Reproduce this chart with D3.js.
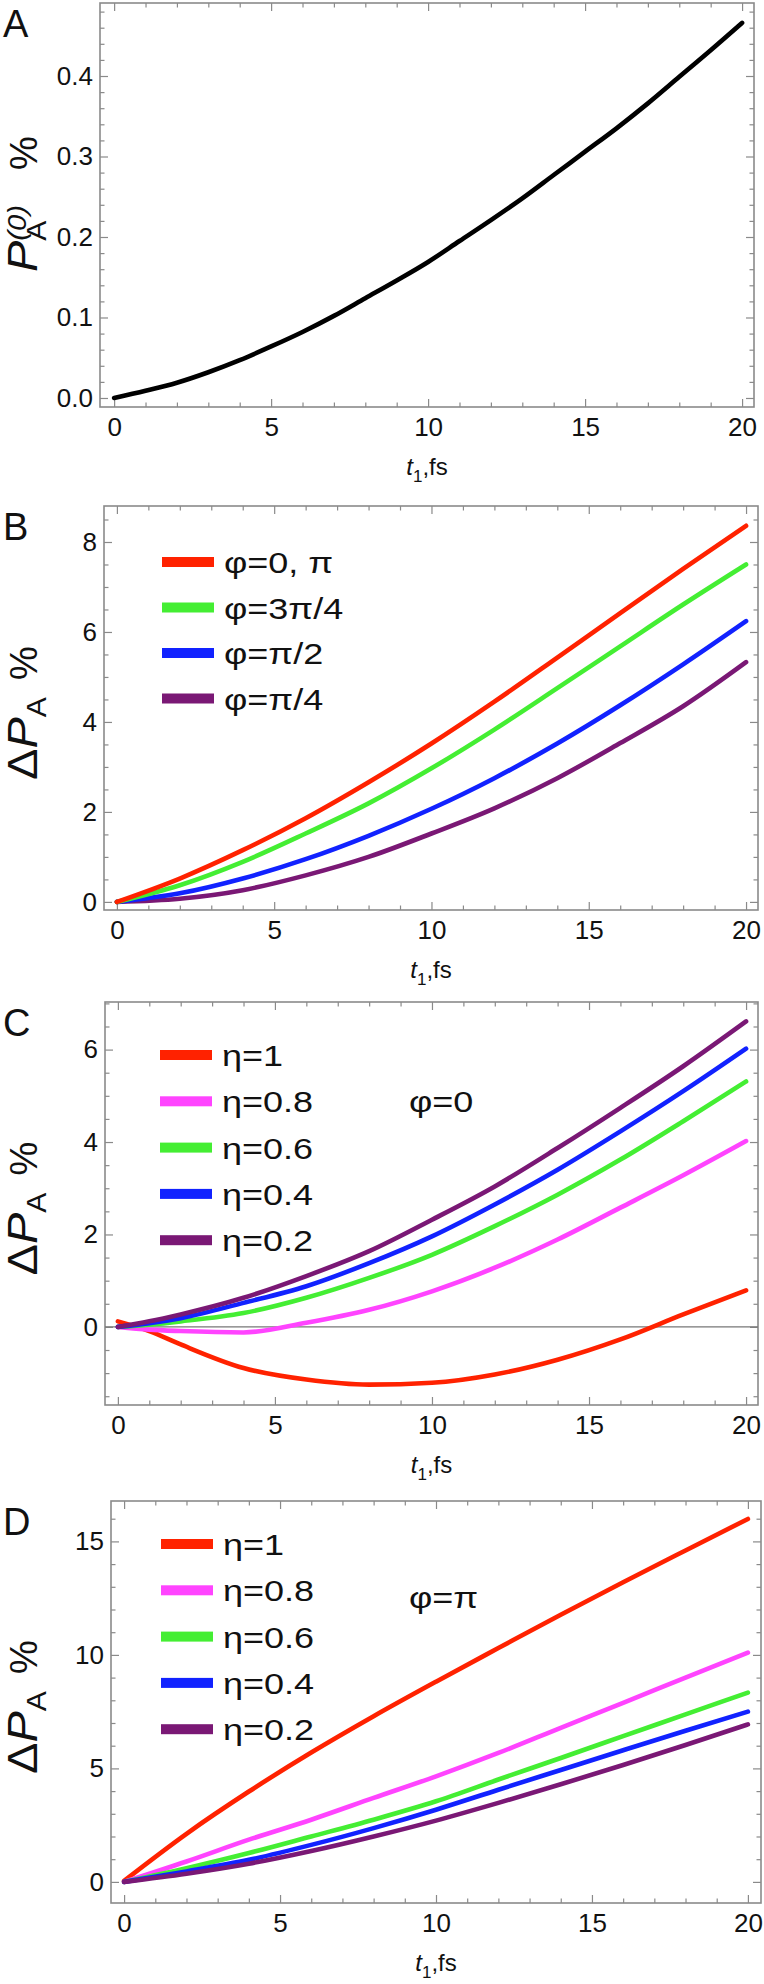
<!DOCTYPE html>
<html><head><meta charset="utf-8">
<script src="https://cdn.jsdelivr.net/npm/d3@7"></script>
<style>
body{margin:0;background:#fff}
svg{display:block}
text{font-family:"Liberation Sans",Arial,Helvetica,sans-serif;fill:#111}
</style>
</head><body>
<svg id="chart" width="764" height="1984"></svg>
<script>
// ---------------- DATA ----------------
const xTicksMajor = [0, 5, 10, 15, 20];

// Panel A : P_A^(0) %
const tA = [0,1,2,3,4,5,6,7,8,9,10,11,12,13,14,15,16,17,18,19,20];
const pA0 = [0,0.009,0.019,0.032,0.047,0.064,0.082,0.102,0.124,0.146,0.169,0.195,0.221,0.248,0.277,0.306,0.335,0.366,0.399,0.432,0.466];
const yTicksA = [0.0, 0.1, 0.2, 0.3, 0.4];

// Panel B : ΔP_A % for different φ
const tB = [0,2,4,6,8,10,12,14,16,18,20];
const bPhi0 = [0,0.52,1.15,1.86,2.66,3.52,4.45,5.43,6.42,7.40,8.36];
const bPhi3q = [0,0.37,0.89,1.52,2.19,2.97,3.83,4.75,5.68,6.61,7.50];
const bPhiHalf = [0,0.19,0.52,0.95,1.47,2.07,2.75,3.52,4.37,5.28,6.24];
const bPhiQ = [0,0.07,0.26,0.59,1.00,1.52,2.08,2.75,3.53,4.35,5.33];
const legendB = ["φ=0, π", "φ=3π/4", "φ=π/2", "φ=π/4"];
const yTicksB = [0, 2, 4, 6, 8];

// Panel C : φ=0, different η
const tC = [0,1,2,4,6,8,10,12,14,16,18,20];
const cEta10 = [0.12,-0.09,-0.38,-0.89,-1.14,-1.25,-1.21,-1.03,-0.71,-0.27,0.27,0.79];
const cEta08 = [0,-0.06,-0.09,-0.12,0.09,0.37,0.77,1.28,1.89,2.58,3.28,4.02];
const cEta06 = [0,0.05,0.12,0.30,0.63,1.06,1.56,2.18,2.86,3.62,4.45,5.31];
const cEta04 = [0,0.08,0.19,0.52,0.88,1.38,1.96,2.65,3.40,4.23,5.10,6.02];
const cEta02 = [0,0.12,0.27,0.63,1.10,1.64,2.32,3.04,3.87,4.74,5.64,6.61];
const yTicksC = [0, 2, 4, 6];

// Panel D : φ=π, different η
const tD = [0,2,4,6,8,10,12,14,16,18,20];
const dEta10 = [0.05,2.12,3.98,5.70,7.30,8.82,10.30,11.77,13.20,14.60,15.99];
const dEta08 = [0,0.90,1.86,2.74,3.70,4.65,5.68,6.79,7.89,9.00,10.10];
const dEta06 = [0,0.60,1.27,2.00,2.74,3.55,4.51,5.46,6.42,7.38,8.34];
const dEta04 = [0,0.46,0.97,1.63,2.37,3.18,4.06,4.93,5.80,6.66,7.50];
const dEta02 = [0,0.36,0.80,1.36,2.00,2.70,3.48,4.30,5.15,6.03,6.94];
const yTicksD = [0, 5, 10, 15];

const legendEta = ["η=1", "η=0.8", "η=0.6", "η=0.4", "η=0.2"];

const RED = "#ff2200", GREEN = "#44ee33", BLUE = "#1122ff", PURPLE = "#7a1875", MAGENTA = "#ff44ff", BLACK = "#000";

// ---------------- DRAW ----------------
const svg = d3.select("#chart");
const FRAME = "#8a8a8a";

function panel(cfg) {
  const g = svg.append("g");
  const f = cfg.frame;
  const x = d3.scaleLinear().domain(cfg.xDomain).range([f.l, f.r]);
  const y = d3.scaleLinear().domain(cfg.yDomain).range([f.b, f.t]);
  const cy0 = (f.t + f.b) / 2;

  const xMinor = d3.range(0, 21, 1).filter(v => !xTicksMajor.includes(v));
  const yMinor = d3.range(cfg.yMinorStart, cfg.yDomain[1], cfg.yMinorStep)
      .map(v => +v.toFixed(4))
      .filter(v => v >= cfg.yDomain[0] && !cfg.yMajor.some(m => Math.abs(m - v) < 1e-6));

  function styleAxis(sel) {
    sel.select(".domain").remove();
    sel.selectAll(".tick line").attr("stroke", FRAME).attr("stroke-width", 1.2);
    sel.selectAll(".tick text").attr("fill", "#111").style("font-size", "26px")
      .style("font-family", '"Liberation Sans", Arial, sans-serif');
  }
  g.append("g").attr("transform", `translate(0,${f.b})`)
    .call(d3.axisBottom(x).tickValues(xTicksMajor).tickSizeInner(-8).tickSizeOuter(0).tickPadding(11).tickFormat(d3.format("d")))
    .call(styleAxis);
  g.append("g").attr("transform", `translate(0,${f.b})`)
    .call(d3.axisBottom(x).tickValues(xMinor).tickSizeInner(-4.5).tickSizeOuter(0).tickFormat(""))
    .call(styleAxis);
  g.append("g").attr("transform", `translate(0,${f.t})`)
    .call(d3.axisTop(x).tickValues(xTicksMajor).tickSizeInner(-8).tickSizeOuter(0).tickFormat(""))
    .call(styleAxis);
  g.append("g").attr("transform", `translate(0,${f.t})`)
    .call(d3.axisTop(x).tickValues(xMinor).tickSizeInner(-4.5).tickSizeOuter(0).tickFormat(""))
    .call(styleAxis);
  g.append("g").attr("transform", `translate(${f.l},0)`)
    .call(d3.axisLeft(y).tickValues(cfg.yMajor).tickSizeInner(-8).tickSizeOuter(0).tickPadding(7).tickFormat(cfg.yFmt))
    .call(styleAxis);
  g.append("g").attr("transform", `translate(${f.l},0)`)
    .call(d3.axisLeft(y).tickValues(yMinor).tickSizeInner(-4.5).tickSizeOuter(0).tickFormat(""))
    .call(styleAxis);
  g.append("g").attr("transform", `translate(${f.r},0)`)
    .call(d3.axisRight(y).tickValues(cfg.yMajor).tickSizeInner(-8).tickSizeOuter(0).tickFormat(""))
    .call(styleAxis);
  g.append("g").attr("transform", `translate(${f.r},0)`)
    .call(d3.axisRight(y).tickValues(yMinor).tickSizeInner(-4.5).tickSizeOuter(0).tickFormat(""))
    .call(styleAxis);

  g.append("rect").attr("x", f.l).attr("y", f.t).attr("width", f.r - f.l).attr("height", f.b - f.t)
    .attr("fill", "none").attr("stroke", FRAME).attr("stroke-width", 1.6);

  if (cfg.zeroLine) {
    g.append("line").attr("x1", f.l).attr("x2", f.r).attr("y1", y(0)).attr("y2", y(0))
      .attr("stroke", "#777").attr("stroke-width", 1.2);
  }

  const line = d3.line().x(d => x(d[0])).y(d => y(d[1])).curve(d3.curveMonotoneX);
  cfg.series.forEach(s => {
    g.append("path").datum(s.t.map((t, i) => [t, s.v[i]]))
      .attr("d", line).attr("fill", "none").attr("stroke", s.color)
      .attr("stroke-width", 4.6).attr("stroke-linejoin", "round").attr("stroke-linecap", "round");
  });

  if (cfg.legend) {
    const L = cfg.legend;
    L.labels.forEach((lab, i) => {
      const cy = L.y0 + i * L.dy;
      g.append("rect").attr("x", L.x).attr("y", cy - 5).attr("width", 52).attr("height", 10)
        .attr("fill", L.colors[i]);
      g.append("text").attr("transform", `translate(${L.x + 62},${cy + 11}) scale(1.2,1)`)
        .style("font-size", "30px").text(lab);
    });
  }
  if (cfg.ann) {
    g.append("text").attr("transform", `translate(${cfg.ann.x},${cfg.ann.y}) scale(1.2,1)`)
      .style("font-size", "30px").text(cfg.ann.text);
  }

  g.append("text").attr("x", 3).attr("y", f.t + 34).style("font-size", "38px").text(cfg.letter);

  const xt = g.append("text").attr("x", (f.l + f.r) / 2).attr("y", f.b + 68)
    .attr("text-anchor", "middle").style("font-size", "24px");
  xt.append("tspan").style("font-style", "italic").text("t");
  xt.append("tspan").attr("dy", 7).style("font-size", "17px").text("1");
  xt.append("tspan").attr("dy", -7).text(",fs");

  // y title: main part (reads upward from its start) and a separate "%"
  const yt = g.append("text")
    .attr("transform", `translate(37,${cy0 + cfg.titleStart}) rotate(-90) scale(1.12,1)`)
    .attr("text-anchor", "start").style("font-size", "42px");
  cfg.yTitle(yt);
  g.append("text")
    .attr("transform", `translate(37,${cy0 + cfg.pctCenter}) rotate(-90)`)
    .attr("text-anchor", "middle").style("font-size", "38px").text("%");
}

function titleDelta(t) {
  t.append("tspan").text("Δ");
  t.append("tspan").style("font-style", "italic").text("P");
  t.append("tspan").attr("dy", 9).style("font-size", "27px").text("A");
}

panel({
  letter: "A",
  frame: {l: 100, r: 754, t: 3, b: 407},
  xDomain: [-0.45, 20.38], yDomain: [-0.0112, 0.4907],
  yMajor: yTicksA, yMinorStart: 0, yMinorStep: 0.02, yFmt: d3.format(".1f"),
  series: [{t: tA, v: pA0, color: BLACK}],
  titleStart: 67, pctCenter: -52,
  yTitle: t => {
    t.append("tspan").style("font-style", "italic").text("P");
    t.append("tspan").attr("dy", 9).style("font-size", "27px").text("A");
    t.append("tspan").attr("dy", -20).attr("dx", -18).style("font-size", "26px").style("font-style", "italic").text("(0)");
  }
});

panel({
  letter: "B",
  frame: {l: 104, r: 758, t: 506, b: 910},
  xDomain: [-0.41, 20.38], yDomain: [-0.18, 8.8],
  yMajor: yTicksB, yMinorStart: 0, yMinorStep: 0.5, yFmt: d3.format("d"),
  series: [
    {t: tB, v: bPhiQ, color: PURPLE},
    {t: tB, v: bPhiHalf, color: BLUE},
    {t: tB, v: bPhi3q, color: GREEN},
    {t: tB, v: bPhi0, color: RED}
  ],
  legend: {x: 162, y0: 562, dy: 45.5, labels: legendB, colors: [RED, GREEN, BLUE, PURPLE]},
  titleStart: 72, pctCenter: -45,
  yTitle: titleDelta
});

panel({
  letter: "C",
  frame: {l: 105, r: 758, t: 1002, b: 1405},
  xDomain: [-0.41, 20.38], yDomain: [-1.69, 7.03],
  yMajor: yTicksC, yMinorStart: -1.5, yMinorStep: 0.5, yFmt: d3.format("d"),
  zeroLine: true,
  series: [
    {t: tC, v: cEta10, color: RED},
    {t: tC, v: cEta08, color: MAGENTA},
    {t: tC, v: cEta06, color: GREEN},
    {t: tC, v: cEta04, color: BLUE},
    {t: tC, v: cEta02, color: PURPLE}
  ],
  legend: {x: 160, y0: 1055, dy: 46.3, labels: legendEta, colors: [RED, MAGENTA, GREEN, BLUE, PURPLE]},
  ann: {x: 409, y: 1112, text: "φ=0"},
  titleStart: 72, pctCenter: -45,
  yTitle: titleDelta
});

panel({
  letter: "D",
  frame: {l: 111, r: 761, t: 1501, b: 1903},
  xDomain: [-0.42, 20.42], yDomain: [-0.93, 16.78],
  yMajor: yTicksD, yMinorStart: 0, yMinorStep: 1, yFmt: d3.format("d"),
  series: [
    {t: tD, v: dEta10, color: RED},
    {t: tD, v: dEta08, color: MAGENTA},
    {t: tD, v: dEta06, color: GREEN},
    {t: tD, v: dEta04, color: BLUE},
    {t: tD, v: dEta02, color: PURPLE}
  ],
  legend: {x: 161, y0: 1544, dy: 46.3, labels: legendEta, colors: [RED, MAGENTA, GREEN, BLUE, PURPLE]},
  ann: {x: 409, y: 1608, text: "φ=π"},
  titleStart: 72, pctCenter: -45,
  yTitle: titleDelta
});
</script>
</body></html>
